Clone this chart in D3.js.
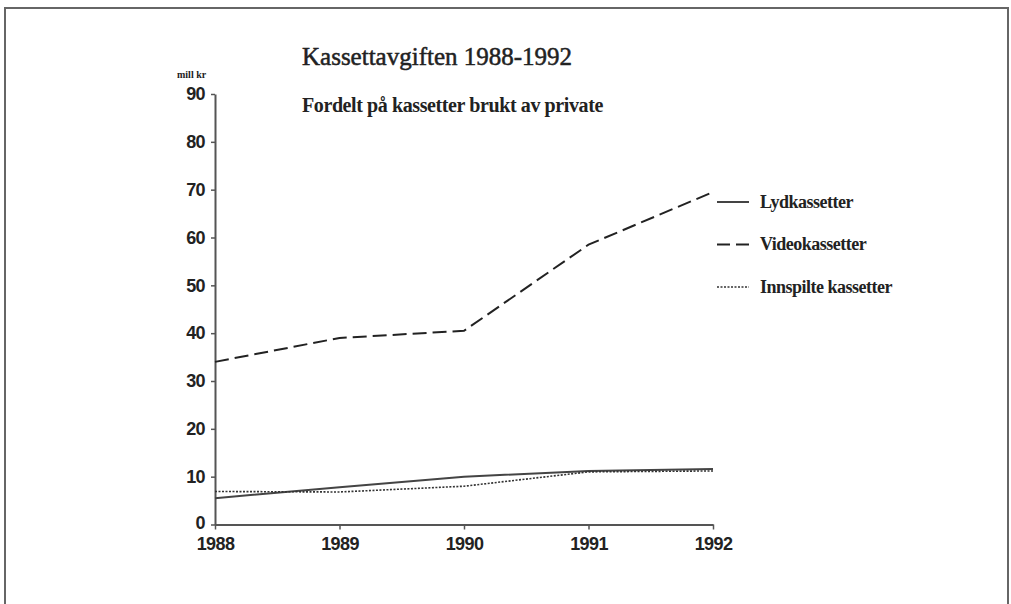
<!DOCTYPE html>
<html>
<head>
<meta charset="utf-8">
<script src="https://cdn.jsdelivr.net/npm/d3@7"></script>
<style>
  body { margin: 0; background: #fff; }
</style>
</head>
<body>
<div id="chart"></div>
<script>
// data
var years = [1988, 1989, 1990, 1991, 1992];
var lydkassetter = [5.5, 7.8, 10, 11.2, 11.6];
var videokassetter = [34, 39, 40.5, 58.5, 69.5];
var innspilte = [6.9, 6.8, 8, 11, 11.2];
var yTicks = [0, 10, 20, 30, 40, 50, 60, 70, 80, 90];

var series = [
    { name: "Lydkassetter", values: lydkassetter, dash: null, width: 2, color: "#444" },
    { name: "Videokassetter", values: videokassetter, dash: "14,6", width: 2, color: "#222" },
    { name: "Innspilte kassetter", values: innspilte, dash: "2,1.5", width: 1.6, color: "#333" }
];

var width = 1011, height = 604;

var svg = d3.select("#chart")
    .append("svg")
    .attr("width", width)
    .attr("height", height);

// frame around the page
svg.append("path")
    .attr("d", "M5,604 L5,8 L1008,8 L1008,604")
    .attr("fill", "none")
    .attr("stroke", "#666")
    .attr("stroke-width", 2);

var x = d3.scaleLinear().domain([1988, 1992]).range([215, 713]);
var y = d3.scaleLinear().domain([0, 90]).range([524.5, 94]);

function styleTickText(sel) {
    sel.attr("font-family", "Liberation Sans, Arial, sans-serif")
        .attr("font-weight", "bold")
        .attr("font-size", "18px")
        .attr("letter-spacing", "-0.6px")
        .attr("fill", "#222");
}

// y axis
var yAxis = d3.axisLeft(y)
    .tickValues(yTicks)
    .tickSize(4)
    .tickSizeOuter(0)
    .tickPadding(6);
var gy = svg.append("g")
    .attr("transform", "translate(" + x(1988) + ",0)")
    .call(yAxis);
gy.select(".domain").attr("stroke", "#555").attr("stroke-width", 2);
gy.selectAll(".tick line").attr("stroke", "#555").attr("stroke-width", 1.5);
gy.selectAll("text").call(styleTickText);
// the "0" sits a little higher in the original
gy.selectAll(".tick text").filter(function(d) { return d === 0; }).attr("dy", "0.2em");

// x axis
var xAxis = d3.axisBottom(x)
    .tickValues(years)
    .tickFormat(d3.format("d"))
    .tickSize(5)
    .tickSizeOuter(0)
    .tickPadding(8);
var gx = svg.append("g")
    .attr("transform", "translate(0," + y(0) + ")")
    .call(xAxis);
gx.select(".domain").attr("stroke", "#555").attr("stroke-width", 2);
gx.selectAll(".tick line").attr("stroke", "#555").attr("stroke-width", 1.5);
gx.selectAll("text").call(styleTickText);

// lines
var line = d3.line()
    .x(function(d, i) { return x(years[i]); })
    .y(function(d) { return y(d); });

svg.selectAll("path.series")
    .data(series)
    .enter()
    .append("path")
    .attr("class", "series")
    .attr("d", function(d) { return line(d.values); })
    .attr("fill", "none")
    .attr("stroke", function(d) { return d.color; })
    .attr("stroke-width", function(d) { return d.width; })
    .attr("stroke-dasharray", function(d) { return d.dash; });

// legend
var legend = svg.selectAll("g.legend")
    .data(series)
    .enter()
    .append("g")
    .attr("class", "legend")
    .attr("transform", function(d, i) { return "translate(717," + (202 + i * 42.5) + ")"; });

legend.append("line")
    .attr("x1", 0).attr("x2", 32)
    .attr("stroke", function(d) { return d.color; })
    .attr("stroke-width", function(d) { return d.width; })
    .attr("stroke-dasharray", function(d) { return d.dash ? (d.dash === "14,6" ? "13,6" : d.dash) : null; });

legend.append("text")
    .attr("x", 43)
    .attr("dy", "0.33em")
    .attr("font-family", "Liberation Serif, Times New Roman, serif")
    .attr("font-weight", "bold")
    .attr("font-size", "18px")
    .attr("letter-spacing", "-0.5px")
    .attr("fill", "#222")
    .text(function(d) { return d.name; });

// titles
svg.append("text")
    .attr("x", 302)
    .attr("y", 65)
    .attr("font-family", "Liberation Serif, Times New Roman, serif")
    .attr("font-size", "25px")
    .attr("fill", "#222")
    .attr("stroke", "#222")
    .attr("stroke-width", 0.5)
    .text("Kassettavgiften 1988-1992");

svg.append("text")
    .attr("x", 302)
    .attr("y", 112)
    .attr("font-family", "Liberation Serif, Times New Roman, serif")
    .attr("font-size", "20px")
    .attr("font-weight", "bold")
    .attr("letter-spacing", "-0.4px")
    .attr("fill", "#222")
    .text("Fordelt på kassetter brukt av private");

svg.append("text")
    .attr("x", 177)
    .attr("y", 78)
    .attr("font-family", "Liberation Serif, Times New Roman, serif")
    .attr("font-size", "10px")
    .attr("font-weight", "bold")
    .attr("fill", "#222")
    .text("mill kr");
</script>
</body>
</html>
